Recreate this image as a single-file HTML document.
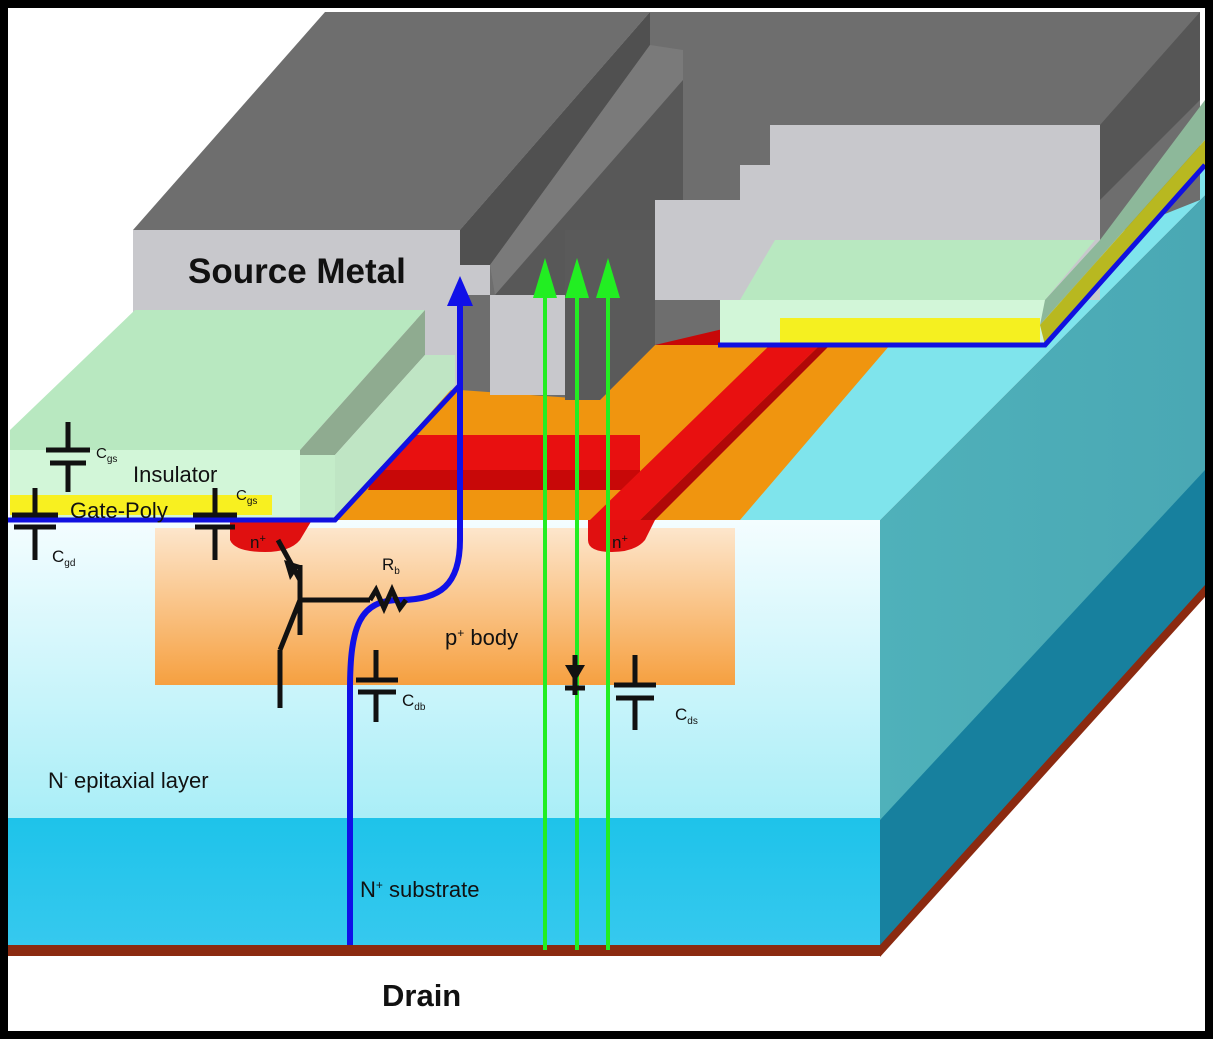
<!DOCTYPE html>
<html><head><meta charset="utf-8"><style>
html,body{margin:0;padding:0;background:#fff;}
svg{display:block;}
text{font-family:"Liberation Sans",Arial,sans-serif;}
</style></head><body>
<svg width="1216" height="1042" viewBox="0 0 1216 1042" xmlns="http://www.w3.org/2000/svg">
<defs>
<linearGradient id="front" x1="0" y1="0" x2="0" y2="1">
<stop offset="0" stop-color="#f4fdff"/><stop offset="1" stop-color="#a9eef7"/></linearGradient>
<linearGradient id="sub" x1="0" y1="0" x2="0" y2="1">
<stop offset="0" stop-color="#1ec3ea"/><stop offset="1" stop-color="#36c9ee"/></linearGradient>
<linearGradient id="body" x1="0" y1="0" x2="0" y2="1">
<stop offset="0" stop-color="#fde6cc"/><stop offset="1" stop-color="#f6a040"/></linearGradient>
<linearGradient id="rside" x1="0" y1="0" x2="1" y2="0">
<stop offset="0" stop-color="#4fb1ba"/><stop offset="1" stop-color="#4aa8b4"/></linearGradient>
</defs>
<rect width="1216" height="1042" fill="#fff"/>
<polygon points="880,520 1205,195 1205,590 880,950" fill="url(#rside)"/>
<polygon points="880,820 1205,470 1205,590 880,950" fill="#17809e"/>
<polygon points="880,945 1205,585 1205,597 880,957" fill="#8b2a10"/>
<polygon points="330,520 880,520 1205,195 1205,165 1045,345 718,345 600,345 455,385" fill="#7fe4ec"/>
<polygon points="335,520 740,520 890,345 455,345 455,385" fill="#f0950f"/>
<polygon points="390,435 640,435 640,490 370,490" fill="#e81010"/>
<polygon points="375,470 640,470 640,490 368,490" fill="#c80808"/>
<polygon points="590,520 640,520 820,345 770,345" fill="#e81010"/>
<polygon points="640,520 655,520 830,345 820,345" fill="#b00808"/>
<polygon points="615,300 740,300 725,345 605,345" fill="#e81010"/>
<polygon points="610,330 730,330 725,345 605,345" fill="#c80808"/>
<rect x="8" y="520" width="872" height="300" fill="url(#front)"/>
<rect x="8" y="818" width="872" height="128" fill="url(#sub)"/>
<rect x="8" y="945" width="872" height="11" fill="#8b2a10"/>
<rect x="155" y="528" width="580" height="157" fill="url(#body)"/>
<path d="M230,520 L312,520 L300,540 Q290,552 265,552 Q235,552 230,540 Z" fill="#e01010"/>
<path d="M588,520 L655,520 L645,540 Q635,552 612,552 Q588,552 588,540 Z" fill="#e01010"/>
<polygon points="460,230 650,12 1200,12 1200,200 1100,240 655,345 600,400 460,390" fill="#6e6e6e"/>
<polygon points="133,230 325,12 650,12 460,230" fill="#6e6e6e"/>
<polygon points="460,230 650,12 650,45 490,265 460,265" fill="#505050"/>
<polygon points="490,265 650,45 683,50 683,80 495,295" fill="#7a7a7a"/>
<polygon points="495,295 683,80 683,200 655,200 655,240 565,345" fill="#585858"/>
<polygon points="565,230 655,230 655,345 600,400 565,400" fill="#5a5a5a"/>
<polygon points="1100,125 1200,12 1200,100 1100,200" fill="#565656"/>
<rect x="133" y="230" width="327" height="90" fill="#c8c8cc"/>
<rect x="425" y="265" width="35" height="125" fill="#c8c8cc"/>
<rect x="460" y="265" width="30" height="30" fill="#c8c8cc"/>
<rect x="490" y="295" width="75" height="100" fill="#c8c8cc"/>
<polygon points="655,200 740,200 740,165 770,165 770,125 1100,125 1100,300 655,300" fill="#c8c8cc"/>
<polygon points="740,300 775,240 1095,240 1045,300" fill="#b8e8c0"/>
<rect x="720" y="300" width="325" height="45" fill="#d2f6d8"/>
<rect x="780" y="318" width="260" height="27" fill="#f5f020"/>
<polygon points="1045,300 1100,240 1205,100 1205,140 1040,325" fill="#8db89a"/>
<polygon points="1040,325 1205,140 1205,165 1045,345" fill="#b8b820"/>
<polyline points="718,345 1045,345 1205,165" fill="none" stroke="#1010e0" stroke-width="5"/>
<polygon points="10,430 135,310 425,310 300,450 10,450" fill="#b8e8c0"/>
<polygon points="300,450 425,310 425,355 335,455 300,455" fill="#8fab90"/>
<polygon points="335,455 425,355 455,355 455,385 335,520" fill="#bfe5c4"/>
<rect x="10" y="450" width="290" height="70" fill="#d2f6d8"/>
<rect x="300" y="455" width="35" height="65" fill="#c4ecc9"/>
<rect x="10" y="495" width="262" height="20" fill="#f8f020"/>
<polyline points="8,520 335,520 460,385" fill="none" stroke="#1010e0" stroke-width="5"/>
<path d="M350,945 L350,690 C350,625 360,600 400,600 C440,600 460,585 460,540 L460,300" fill="none" stroke="#1010e8" stroke-width="6"/>
<polygon points="447,306 473,306 460,276" fill="#1010e8"/>
<g stroke="#22ee22" stroke-width="4" fill="#22ee22">
<line x1="545" y1="950" x2="545" y2="285"/><polygon points="533,298 557,298 545,258" stroke="none"/>
<line x1="577" y1="950" x2="577" y2="285"/><polygon points="565,298 589,298 577,258" stroke="none"/>
<line x1="608" y1="950" x2="608" y2="285"/><polygon points="596,298 620,298 608,258" stroke="none"/>
</g>
<g stroke="#111" stroke-width="5" fill="none">
<line x1="68" y1="422" x2="68" y2="450"/><line x1="46" y1="450" x2="90" y2="450"/><line x1="50" y1="463" x2="86" y2="463"/><line x1="68" y1="463" x2="68" y2="492"/>
<line x1="35" y1="488" x2="35" y2="515"/><line x1="12" y1="515" x2="58" y2="515"/><line x1="14" y1="527" x2="56" y2="527"/><line x1="35" y1="527" x2="35" y2="560"/>
<line x1="215" y1="488" x2="215" y2="515"/><line x1="193" y1="515" x2="237" y2="515"/><line x1="195" y1="527" x2="235" y2="527"/><line x1="215" y1="527" x2="215" y2="560"/>
<line x1="278" y1="540" x2="300" y2="580"/><line x1="300" y1="565" x2="300" y2="635"/><line x1="300" y1="600" x2="280" y2="650"/><line x1="280" y1="650" x2="280" y2="708"/>
<line x1="300" y1="600" x2="370" y2="600"/>
<polyline points="370,600 376,590 384,608 392,590 400,608 406,600"/>
<line x1="376" y1="650" x2="376" y2="680"/><line x1="356" y1="680" x2="398" y2="680"/><line x1="358" y1="692" x2="396" y2="692"/><line x1="376" y1="692" x2="376" y2="722"/>
<line x1="635" y1="655" x2="635" y2="685"/><line x1="614" y1="685" x2="656" y2="685"/><line x1="616" y1="698" x2="654" y2="698"/><line x1="635" y1="698" x2="635" y2="730"/>
<line x1="575" y1="655" x2="575" y2="695"/><line x1="565" y1="688" x2="585" y2="688"/>
</g>
<polygon points="565,665 585,665 575,682" fill="#111"/>
<polygon points="284,560 300,565 290,580" fill="#111"/>
<g fill="#111">
<text x="188" y="283" font-size="35" font-weight="bold">Source Metal</text>
<text x="96" y="458" font-size="15">C<tspan font-size="10" dy="4">gs</tspan></text>
<text x="133" y="482" font-size="22">Insulator</text>
<text x="70" y="518" font-size="22">Gate-Poly</text>
<text x="236" y="500" font-size="15">C<tspan font-size="10" dy="4">gs</tspan></text>
<text x="52" y="562" font-size="17">C<tspan font-size="10" dy="4">gd</tspan></text>
<text x="250" y="548" font-size="17">n<tspan font-size="11" dy="-6">+</tspan></text>
<text x="612" y="548" font-size="17">n<tspan font-size="11" dy="-6">+</tspan></text>
<text x="382" y="570" font-size="17">R<tspan font-size="10" dy="4">b</tspan></text>
<text x="445" y="645" font-size="22">p<tspan font-size="12" dy="-8">+</tspan><tspan dy="8"> body</tspan></text>
<text x="402" y="706" font-size="17">C<tspan font-size="10" dy="4">db</tspan></text>
<text x="675" y="720" font-size="17">C<tspan font-size="10" dy="4">ds</tspan></text>
<text x="48" y="788" font-size="22">N<tspan font-size="12" dy="-8">-</tspan><tspan dy="8"> epitaxial layer</tspan></text>
<text x="360" y="897" font-size="22">N<tspan font-size="12" dy="-8">+</tspan><tspan dy="8"> substrate</tspan></text>
<text x="382" y="1006" font-size="31" font-weight="bold">Drain</text>
</g>
<rect x="4" y="4" width="1205" height="1031" fill="none" stroke="#000" stroke-width="8"/>
</svg>
</body></html>
